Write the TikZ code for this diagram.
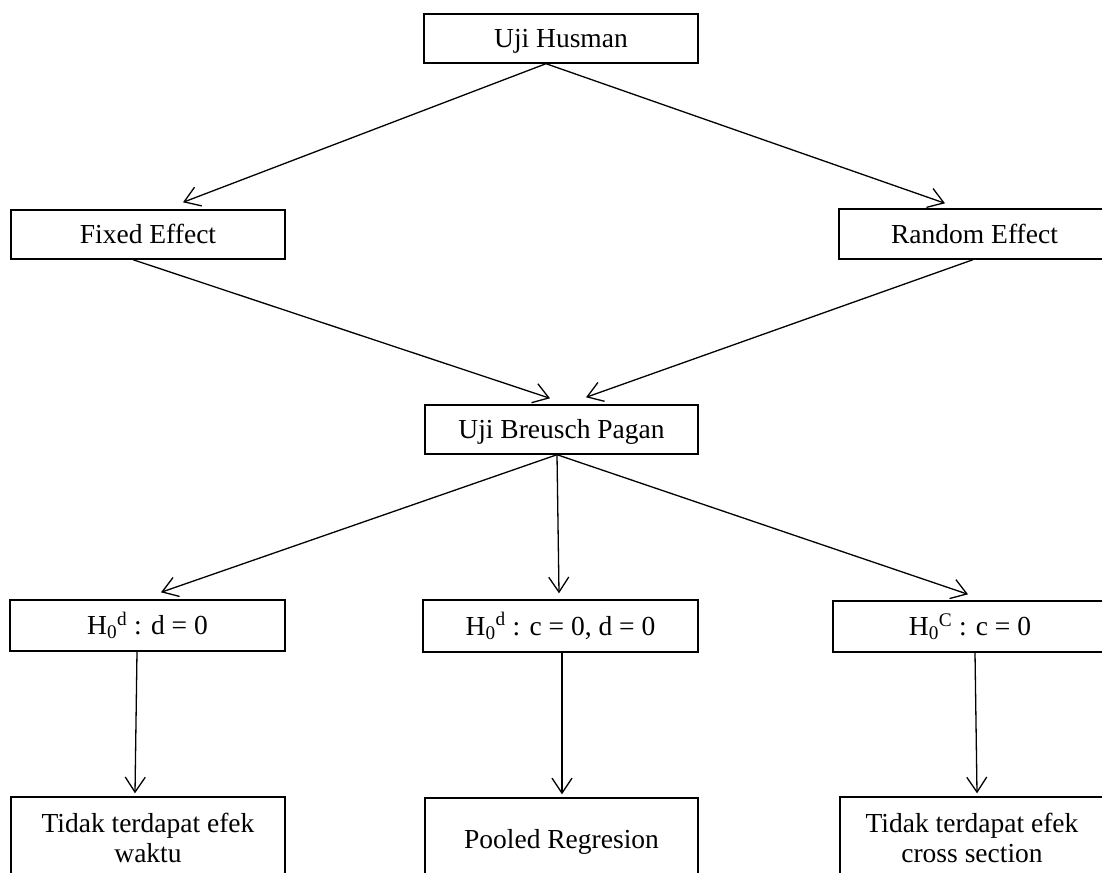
\documentclass[tikz,border=0pt]{standalone}
\usepackage{fontspec}
\setmainfont{Liberation Serif}
\usetikzlibrary{arrows.meta,calc}
\tikzset{
  x=1pt,y=-1pt,
  box2/.style={draw=black,line width=1.4pt,rectangle,inner sep=0pt,align=center,
    font=\fontsize{27.5}{30}\selectfont},
  box/.style={box2,text height=20pt,text depth=2pt},
  arr/.style={draw=black,line width=1.3pt,-{Straight Barb[length=15pt,width=20pt,line width=1.3pt]}}
}
\begin{document}
\begin{tikzpicture}
\useasboundingbox (0,0) rectangle (1102,872);
\clip (0,0) rectangle (1102,872);
\fill[white] (0,0) rectangle (1102,872);
% nodes
\node[box,minimum width=274pt,minimum height=49pt] (hus) at (561,38.5) {Uji Husman};
\node[box,minimum width=274pt,minimum height=49pt] (fix) at (148,234.5) {Fixed Effect};
\node[box,minimum width=271pt,minimum height=50pt] (ran) at (974.5,234) {Random Effect};
\node[box,minimum width=273pt,minimum height=49pt] (bp) at (561.5,429.5) {Uji Breusch Pagan};
\node[box,minimum width=275pt,minimum height=51pt] (h1) at (147.5,625.5) {H\textsubscript{0}\textsuperscript{d} : d = 0};
\node[box,minimum width=275pt,minimum height=52pt] (h2) at (560.5,626) {H\textsubscript{0}\textsuperscript{d} : c = 0, d = 0};
\node[box,minimum width=274pt,minimum height=51pt] (h3) at (970,626.5) {H\textsubscript{0}\textsuperscript{C} : c = 0};
\node[box2,minimum width=274pt,minimum height=82pt] (b1) at (148,838) {Tidak terdapat efek\\waktu};
\node[box,minimum width=273pt,minimum height=82pt] (b2) at (561.5,839) {Pooled Regresion};
\node[box2,minimum width=264pt,minimum height=82pt] (b3) at (972,838) {Tidak terdapat efek\\cross section};
% connectors
\draw[arr] ($(hus.south)+(-15,0)$) -- ($(fix.north)+(35,-7)$);
\draw[arr] ($(hus.south)+(-15,0)$) -- ($(ran.north)+(-29.5,-5)$);
\draw[arr] ($(fix.south)+(-15,0)$) -- ($(bp.north)+(-11.5,-6)$);
\draw[arr] ($(ran.south)+(-1.5,0)$) -- ($(bp.north)+(24.5,-7)$);
\draw[arr] ($(bp.south)+(-4.5,0)$) -- ($(h1.north)+(13.5,-7)$);
\draw[arr] ($(bp.south)+(-4.5,0)$) -- ($(h2.north)+(-1.5,-6)$);
\draw[arr] ($(bp.south)+(-4.5,0)$) -- ($(h3.north)+(-2,-6)$);
\draw[arr] ($(h1.south)+(-10.5,0)$) -- ($(b1.north)+(-13,-3)$);
\draw[arr] ($(h2.south)+(1.5,0)$) -- ($(b2.north)+(0.5,-3)$);
\draw[arr] ($(h3.south)+(5,0)$) -- ($(b3.north)+(5,-3)$);
\end{tikzpicture}
\end{document}
